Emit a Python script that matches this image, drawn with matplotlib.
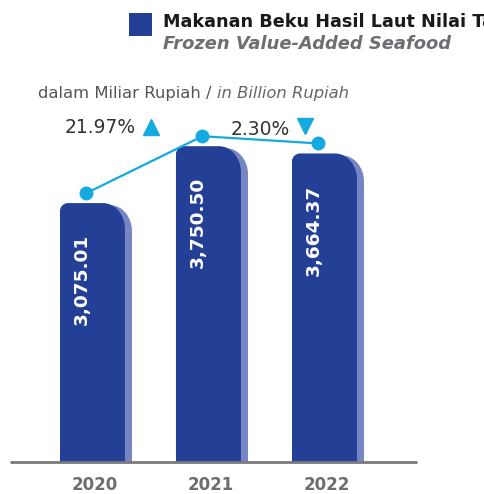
import matplotlib
matplotlib.use("Agg")
import matplotlib.pyplot as plt
import matplotlib.transforms as mtransforms
from matplotlib.path import Path
from matplotlib.patches import PathPatch, Rectangle

years = ["2020", "2021", "2022"]
values = [3075.01, 3750.50, 3664.37]
value_labels = ["3,075.01", "3,750.50", "3,664.37"]
growth_labels = ["21.97%", "2.30%"]
growth_dirs = ["up", "down"]
title_id = "Makanan Beku Hasil Laut Nilai Tambah"
title_en = "Frozen Value-Added Seafood"
unit_id = "dalam Miliar Rupiah / "
unit_en = "in Billion Rupiah"

BAR = "#233f96"
SHADOW = "#7686c4"
LINE = "#14a9e1"
GRAY = "#6d6e71"

plt.rcParams['font.family'] = ['DejaVu Sans']

W, H = 484, 494
fig = plt.figure(figsize=(W / 100, H / 100), dpi=100)

# axes in pixel layout
ax_l, ax_r, ax_b, ax_t = 10, 417, 462, 100
ax = fig.add_axes([ax_l / W, 1 - ax_b / H, (ax_r - ax_l) / W, (ax_b - ax_t) / H])
xmin, xmax = -0.711, -0.711 + (ax_r - ax_l) / 116
ymin, ymax = 0, (ax_b - ax_t) / 0.0842
ax.set_xlim(xmin, xmax)
ax.set_ylim(ymin, ymax)
ax.axis("off")

pxx = (ax_r - ax_l) / (xmax - xmin)
pxy = (ax_b - ax_t) / (ymax - ymin)


def bar_path(x0, x1, top, rl_px, rr_px_x, rr_px_y):
    k = 0.5523
    rlx, rly = rl_px / pxx, rl_px / pxy
    rrx, rry = rr_px_x / pxx, rr_px_y / pxy
    verts = [
        (x0, 0), (x0, top - rly),
        (x0, top - rly + k * rly), (x0 + rlx - k * rlx, top), (x0 + rlx, top),
        (x1 - rrx, top),
        (x1 - rrx + k * rrx, top), (x1, top - rry + k * rry), (x1, top - rry),
        (x1, 0), (x0, 0),
    ]
    codes = [Path.MOVETO, Path.LINETO,
             Path.CURVE4, Path.CURVE4, Path.CURVE4,
             Path.LINETO,
             Path.CURVE4, Path.CURVE4, Path.CURVE4,
             Path.LINETO, Path.CLOSEPOLY]
    return Path(verts, codes)


bw = 65 / pxx
sh_dx = 7 / pxx
sh_dy = 2 / pxy
for i, v in enumerate(values):
    x0 = i - bw / 2
    x1 = i + bw / 2
    ax.add_patch(PathPatch(bar_path(x0 + sh_dx, x1 + sh_dx, v - sh_dy, 8, 22, 26),
                           facecolor=SHADOW, edgecolor="none", zorder=1))
    ax.add_patch(PathPatch(bar_path(x0, x1, v, 8, 22, 26),
                           facecolor=BAR, edgecolor="none", zorder=2))
    ttxt = mtransforms.offset_copy(ax.transData, fig=fig, x=-11, y=-31, units="dots")
    ax.text(i, v, value_labels[i], rotation=90, ha="center", va="top",
            color="white", fontsize=13.3, fontweight="bold", transform=ttxt, zorder=3)

# baseline
ax.plot([xmin, xmax], [0, 0], color="#7a7a7a", lw=2, clip_on=False, zorder=4,
        solid_capstyle="butt")

# line with markers
tline = mtransforms.offset_copy(ax.transData, fig=fig, x=-6, y=10, units="dots")
xs = list(range(len(values)))
ax.plot(xs, values, color=LINE, lw=1.6, marker="o", markersize=9,
        transform=tline, zorder=5, clip_on=False)

# growth labels
for j, (lab, d) in enumerate(zip(growth_labels, growth_dirs)):
    xm = (xs[j] + xs[j + 1]) / 2
    ym = (values[j] + values[j + 1]) / 2
    if j == 0:
        tt = mtransforms.offset_copy(ax.transData, fig=fig, x=-50, y=47, units="dots")
        tm = mtransforms.offset_copy(ax.transData, fig=fig, x=1, y=48, units="dots")
    else:
        tt = mtransforms.offset_copy(ax.transData, fig=fig, x=-6, y=20, units="dots")
        tm = mtransforms.offset_copy(ax.transData, fig=fig, x=39, y=24, units="dots")
    ax.text(xm, ym, lab, ha="center", va="center", fontsize=13.5, color="#333333",
            transform=tt, clip_on=False)
    ax.plot([xm], [ym], marker="^" if d == "up" else "v", markersize=12,
            color=LINE, transform=tm, clip_on=False, linestyle="none")

# year labels
for i, y in enumerate(years):
    ty = mtransforms.offset_copy(ax.transData, fig=fig, x=2, y=-23, units="dots")
    ax.text(i, 0, y, ha="center", va="center", fontsize=12, fontweight="bold",
            color=GRAY, transform=ty)

# title block
fig.patches.append(Rectangle((129 / W, 1 - 36 / H), 23 / W, 23 / H,
                             transform=fig.transFigure, facecolor=BAR,
                             edgecolor="none"))
fig.text(163 / W, 1 - 22 / H, title_id, ha="left", va="center", fontsize=12.7,
         fontweight="bold", color="#1a1a1a")
fig.text(163 / W, 1 - 44 / H, title_en, ha="left", va="center", fontsize=12.9,
         fontweight="bold", fontstyle="italic", color=GRAY)

t1 = fig.text(38 / W, 1 - 93 / H, unit_id, ha="left", va="center", fontsize=11.8,
              color="#555555")
fig.canvas.draw()
bb = t1.get_window_extent()
fig.text(bb.x1 / W, 1 - 93 / H, unit_en, ha="left", va="center", fontsize=11.8,
         fontstyle="italic", color="#666666")

fig.savefig("out.png", dpi=100)
